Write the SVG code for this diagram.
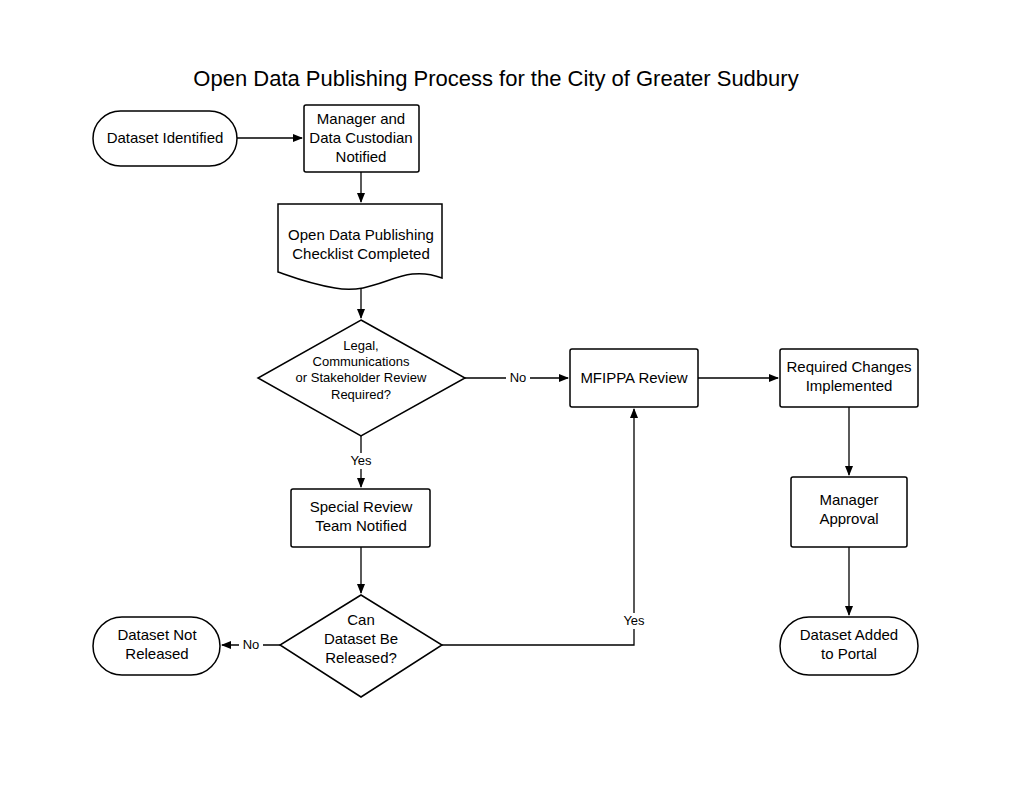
<svg xmlns="http://www.w3.org/2000/svg" width="1024" height="791" viewBox="0 0 1024 791">
<style>
.s{fill:#fff;stroke:#000;stroke-width:1.5}
.t{font-family:"Liberation Sans",Arial,sans-serif;font-size:15px;text-anchor:middle;fill:#000}
.l{font-family:"Liberation Sans",Arial,sans-serif;font-size:13px;text-anchor:middle;fill:#000}
.c{fill:none;stroke:#000;stroke-width:1.3}
</style>
<defs><marker id="a" markerWidth="10" markerHeight="8" refX="9" refY="4" orient="auto" markerUnits="userSpaceOnUse"><path d="M0,0L10,4L0,8z" fill="#000"/></marker></defs>
<rect width="1024" height="791" fill="#fff"/>
<text x="496" y="86" class="t" style="font-size:22px">Open Data Publishing Process for the City of Greater Sudbury</text>
<g id="connectors">
<path class="c" d="M237,138H302" marker-end="url(#a)"/>
<path class="c" d="M361,172V202" marker-end="url(#a)"/>
<path class="c" d="M361,284V318" marker-end="url(#a)"/>
<path class="c" d="M465,378H568" marker-end="url(#a)"/>
<path class="c" d="M698,378H778" marker-end="url(#a)"/>
<path class="c" d="M849,407V475" marker-end="url(#a)"/>
<path class="c" d="M849,547V615" marker-end="url(#a)"/>
<path class="c" d="M361,436V487" marker-end="url(#a)"/>
<path class="c" d="M361,547V593" marker-end="url(#a)"/>
<path class="c" d="M280,645H222" marker-end="url(#a)"/>
<path class="c" d="M442,645H634V409" marker-end="url(#a)"/>
<rect x="506" y="370" width="24" height="16" fill="#fff"/><text x="518" y="382" class="l">No</text>
<rect x="348" y="453" width="26" height="16" fill="#fff"/><text x="361" y="465" class="l">Yes</text>
<rect x="239" y="637" width="24" height="16" fill="#fff"/><text x="251" y="649" class="l">No</text>
<rect x="621" y="613" width="26" height="16" fill="#fff"/><text x="634" y="625" class="l">Yes</text>
</g>
<g id="n1"><rect class="s" x="93" y="111" width="144" height="55" rx="27.5"/><text x="165" y="143" class="t">Dataset Identified</text></g>
<g id="n2"><rect class="s" x="304" y="105" width="115" height="67" rx="2"/><text class="t"><tspan x="361" y="124">Manager and</tspan><tspan x="361" y="143">Data Custodian</tspan><tspan x="361" y="162">Notified</tspan></text></g>
<g id="n3"><path class="s" d="M278,204H442V278C400,262 380,296 335,288C310,284 295,278 278,272Z"/><text class="t"><tspan x="361" y="240">Open Data Publishing</tspan><tspan x="361" y="259">Checklist Completed</tspan></text></g>
<g id="n4"><path class="s" d="M361,320L465,378L361,436L258,378Z"/><text class="l"><tspan x="361" y="350">Legal,</tspan><tspan x="361" y="366">Communications</tspan><tspan x="361" y="382">or Stakeholder Review</tspan><tspan x="361" y="399">Required?</tspan></text></g>
<g id="n5"><rect class="s" x="570" y="349" width="128" height="58" rx="2"/><text x="634" y="383" class="t">MFIPPA Review</text></g>
<g id="n6"><rect class="s" x="780" y="349" width="138" height="58" rx="2"/><text class="t"><tspan x="849" y="372">Required Changes</tspan><tspan x="849" y="391">Implemented</tspan></text></g>
<g id="n7"><rect class="s" x="791" y="477" width="116" height="70" rx="2"/><text class="t"><tspan x="849" y="505">Manager</tspan><tspan x="849" y="524">Approval</tspan></text></g>
<g id="n8"><rect class="s" x="780" y="617" width="138" height="58" rx="29"/><text class="t"><tspan x="849" y="640">Dataset Added</tspan><tspan x="849" y="659">to Portal</tspan></text></g>
<g id="n9"><rect class="s" x="291" y="489" width="139" height="58" rx="2"/><text class="t"><tspan x="361" y="512">Special Review</tspan><tspan x="361" y="531">Team Notified</tspan></text></g>
<g id="n10"><path class="s" d="M361,595L442,645L361,697L280,645Z"/><text class="t"><tspan x="361" y="625">Can</tspan><tspan x="361" y="644">Dataset Be</tspan><tspan x="361" y="663">Released?</tspan></text></g>
<g id="n11"><rect class="s" x="93" y="617" width="127" height="58" rx="29"/><text class="t"><tspan x="157" y="640">Dataset Not</tspan><tspan x="157" y="659">Released</tspan></text></g>
</svg>
